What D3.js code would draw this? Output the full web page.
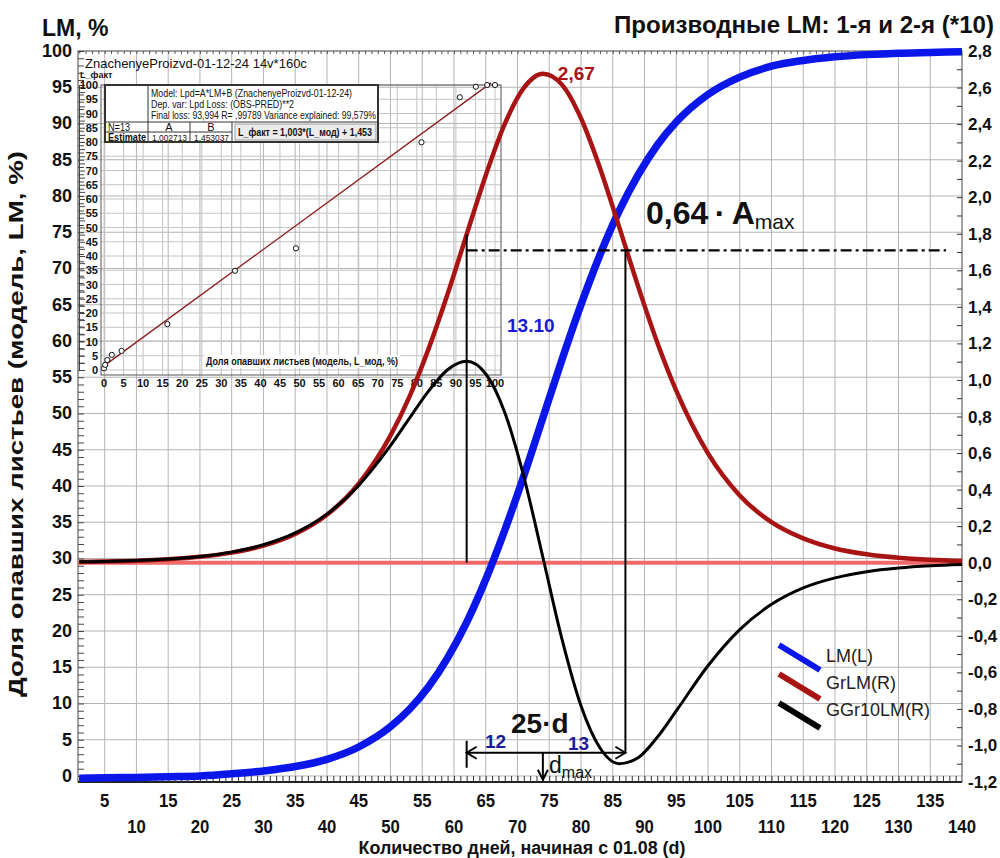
<!DOCTYPE html>
<html>
<head>
<meta charset="utf-8">
<script src="https://cdn.jsdelivr.net/npm/d3@7"></script>
<style>
  body { margin: 0; background: #fff; }
  svg { display: block; }
  text { font-family: "Liberation Sans", Arial, sans-serif; fill: #111; }
</style>
</head>
<body>
<svg id="chart" width="1000" height="858"></svg>
<script>
// days since 01.08 and the three curves
const days = [1, 5, 10, 15, 20, 25, 30, 35, 40, 45, 50, 53, 56, 59, 62, 65, 68, 71, 74, 77,
    80, 83, 86, 89, 92, 95, 100, 105, 110, 115, 120, 125, 130, 135, 140]
const lm = [-0.3, -0.25, -0.2, -0.1, 0.0, 0.3, 0.7, 1.3, 2.3, 4.0, 6.8, 9.2, 12.3, 16.3, 21.2, 27.1, 33.9, 41.4, 49.4, 57.4,
    65.0, 71.9, 77.9, 82.9, 87.0, 90.2, 94.0, 96.4, 97.9, 98.7, 99.2, 99.5, 99.7, 99.8, 99.9]
const grlm = [0.004, 0.007, 0.011, 0.019, 0.032, 0.055, 0.093, 0.157, 0.262, 0.432, 0.695, 0.909, 1.170, 1.470, 1.796, 2.119, 2.401, 2.598, 2.675, 2.616,
    2.432, 2.159, 1.839, 1.512, 1.206, 0.941, 0.598, 0.368, 0.222, 0.133, 0.078, 0.046, 0.027, 0.016, 0.009]
const ggr10 = [0.005, 0.007, 0.012, 0.020, 0.034, 0.058, 0.098, 0.163, 0.266, 0.423, 0.640, 0.791, 0.939, 1.056, 1.102, 1.034, 0.822, 0.471, 0.030, -0.417,
    -0.783, -1.014, -1.100, -1.067, -0.956, -0.811, -0.564, -0.366, -0.228, -0.138, -0.083, -0.049, -0.029, -0.017, -0.010]

// inset: observed vs model leaf fall, N=13
const insetModel = [0, 0.3, 0.85, 2.0, 4.5, 16.2, 33.5, 49.1, 81.2, 91.0, 95.1, 98.0, 100]
const insetFact = [0.6, 1.8, 3.5, 5.3, 6.7, 16.1, 34.8, 42.7, 79.9, 95.7, 99.4, 100, 100]
const coefA = 1.003, coefB = 1.453

// annotation values
const peakDay = 74, peakValue = 2.67
const leftDay = 62, rightDay = 87
const levelValue = 0.64 * peakValue
const leftTicks = d3.range(0, 101, 5)
const rightTicks = d3.range(-1.2, 2.81, 0.2)
const dayTicks = d3.range(5, 141, 5)

const svg = d3.select("#chart")
const plot = { left: 78, right: 962, top: 51, bottom: 782 }

const x = d3.scaleLinear().domain([0.8, 140]).range([plot.left, plot.right])
const yL = d3.scaleLinear().domain([-0.83, 100]).range([plot.bottom, plot.top])
const yR = d3.scaleLinear().domain([-1.2, 2.8]).range([plot.bottom, plot.top])
const comma = (v, f = ".1f") => d3.format(f)(v).replace(".", ",").replace("\u2212", "-")

// grid
const grid = svg.append("g").attr("stroke", "#b4b4b4").attr("stroke-width", 1)
grid.selectAll("line.v").data(dayTicks.filter(d => d < 140)).join("line")
    .attr("x1", d => x(d)).attr("x2", d => x(d))
    .attr("y1", plot.top).attr("y2", plot.bottom)
grid.selectAll("line.h").data(leftTicks.filter(d => d < 100)).join("line")
    .attr("x1", plot.left).attr("x2", plot.right)
    .attr("y1", d => yL(d)).attr("y2", d => yL(d))

// frame and minor ticks
svg.append("rect")
    .attr("x", plot.left).attr("y", plot.top)
    .attr("width", plot.right - plot.left).attr("height", plot.bottom - plot.top)
    .attr("fill", "none").attr("stroke", "#444").attr("stroke-width", 1)
svg.append("line")
    .attr("x1", plot.left).attr("x2", plot.right)
    .attr("y1", plot.bottom).attr("y2", plot.bottom)
    .attr("stroke", "#222").attr("stroke-width", 2)

svg.append("g")
    .attr("transform", `translate(0,${plot.bottom})`)
    .call(d3.axisTop(x).tickValues(d3.range(1, 140)).tickSize(6).tickFormat(""))
    .call(g => g.select(".domain").remove())
    .call(g => g.selectAll("line").attr("stroke", "#333"))
svg.append("g")
    .attr("transform", `translate(0,${plot.top})`)
    .call(d3.axisBottom(x).tickValues(d3.range(1, 140)).tickSize(3).tickFormat(""))
    .call(g => g.select(".domain").remove())
    .call(g => g.selectAll("line").attr("stroke", "#555"))
svg.append("g")
    .attr("transform", `translate(${plot.left},0)`)
    .call(d3.axisRight(yL).tickValues(d3.range(0, 101, 1)).tickSize(6).tickFormat(""))
    .call(g => g.select(".domain").remove())
    .call(g => g.selectAll("line").attr("stroke", "#444"))
svg.append("g")
    .attr("transform", `translate(${plot.right},0)`)
    .call(d3.axisLeft(yR).tickValues(d3.range(-1.2, 2.81, 0.1)).tickSize(5).tickFormat(""))
    .call(g => g.select(".domain").remove())
    .call(g => g.selectAll("line").attr("stroke", "#333"))

// axis labels
svg.append("g").selectAll("text").data(leftTicks).join("text")
    .attr("x", 72).attr("y", d => yL(d) + 6)
    .attr("text-anchor", "end").attr("font-size", 18).attr("font-weight", "bold")
    .text(d => d)
svg.append("g").selectAll("text").data(rightTicks).join("text")
    .attr("x", 968).attr("y", d => yR(d) + 6)
    .attr("font-size", 17).attr("font-weight", "bold")
    .text(d => comma(d))
svg.append("g").selectAll("text").data(dayTicks).join("text")
    .attr("transform", d => `translate(${x(d)},${d % 10 === 0 ? 833 : 807}) scale(0.88,1)`)
    .attr("text-anchor", "middle").attr("font-size", 19).attr("font-weight", "bold")
    .text(d => d)

// titles
svg.append("text").attr("x", 42).attr("y", 36)
    .attr("font-size", 23).attr("font-weight", "bold").text("LM, %")
svg.append("text").attr("x", 994).attr("y", 33).attr("text-anchor", "end")
    .attr("font-size", 23).attr("font-weight", "bold")
    .attr("textLength", 380).attr("lengthAdjust", "spacingAndGlyphs")
    .text("Производные LM: 1-я и 2-я (*10)")
svg.append("text").attr("transform", "translate(23,424) rotate(-90)")
    .attr("text-anchor", "middle").attr("font-size", 20).attr("font-weight", "bold")
    .attr("textLength", 546).attr("lengthAdjust", "spacingAndGlyphs")
    .text("Доля опавших листьев (модель, LM, %)")
svg.append("text").attr("transform", "translate(522,854) scale(0.94,1)")
    .attr("text-anchor", "middle").attr("font-size", 19).attr("font-weight", "bold")
    .text("Количество дней, начиная с 01.08  (d)")

// ---- inset regression plot ----
const ix = d3.scaleLinear().domain([0, 100]).range([104, 495])
const iy = d3.scaleLinear().domain([0, 100]).range([370, 85])
const inset = svg.append("g")
const insetTicks = d3.range(0, 101, 5)

inset.append("g").attr("stroke", "#c4c4c4").attr("stroke-width", 1)
    .call(g => g.selectAll("line.v").data(insetTicks).join("line")
        .attr("x1", d => ix(d)).attr("x2", d => ix(d)).attr("y1", 85).attr("y2", 375))
    .call(g => g.selectAll("line.h").data(insetTicks).join("line").attr("class", "h")
        .attr("x1", 101).attr("x2", 501).attr("y1", d => iy(d)).attr("y2", d => iy(d)))
inset.append("rect").attr("x", 101).attr("y", 85).attr("width", 400).attr("height", 290)
    .attr("fill", "none").attr("stroke", "#555").attr("stroke-width", 1)

inset.append("g")
    .attr("transform", "translate(79,0)")
    .call(d3.axisRight(iy).tickValues(d3.range(0, 101, 2.5)).tickSize(6).tickFormat(""))
    .call(g => g.select(".domain").attr("stroke", "#444"))
    .call(g => g.selectAll("line").attr("stroke", "#444"))
inset.append("g").selectAll("text").data(insetTicks).join("text")
    .attr("x", 98).attr("y", d => iy(d) + 4)
    .attr("text-anchor", "end").attr("font-size", 11).attr("font-weight", "bold").attr("fill", "#222")
    .text(d => d)
inset.append("g").selectAll("text").data(insetTicks).join("text")
    .attr("x", d => ix(d)).attr("y", 387)
    .attr("text-anchor", "middle").attr("font-size", 11).attr("font-weight", "bold").attr("fill", "#222")
    .text(d => d)

inset.append("rect").attr("x", 204).attr("y", 355).attr("width", 196).attr("height", 13).attr("fill", "#fff")
inset.append("text").attr("x", 302).attr("y", 365).attr("text-anchor", "middle")
    .attr("font-size", 10.5).attr("font-weight", "bold").attr("fill", "#222")
    .attr("textLength", 192).attr("lengthAdjust", "spacingAndGlyphs")
    .text("Доля опавших листьев (модель, L_мод, %)")

inset.append("line")
    .attr("x1", ix(0)).attr("y1", iy(coefB))
    .attr("x2", ix(99)).attr("y2", iy(coefA * 99 + coefB))
    .attr("stroke", "#8b1a1a").attr("stroke-width", 1.3)
inset.selectAll("circle").data(insetModel).join("circle")
    .attr("cx", d => ix(d)).attr("cy", (d, i) => iy(insetFact[i]))
    .attr("r", 2.6).attr("fill", "#fff").attr("stroke", "#111").attr("stroke-width", 1)

inset.append("text").attr("x", 85).attr("y", 68).attr("font-size", 13).attr("fill", "#222")
    .text("ZnachenyeProizvd-01-12-24 14v*160c")
inset.append("text").attr("x", 80).attr("y", 78).attr("font-size", 9).attr("font-weight", "bold").attr("fill", "#222")
    .text("L_факт")

// results table
const tbl = inset.append("g").attr("font-size", 11).attr("fill", "#222")
tbl.append("rect").attr("x", 105).attr("y", 85).attr("width", 273).attr("height", 57)
    .attr("fill", "#fff").attr("stroke", "#333").attr("stroke-width", 2)
const tl = (x1, y1, x2, y2) => tbl.append("line").attr("x1", x1).attr("y1", y1).attr("x2", x2).attr("y2", y2)
    .attr("stroke", "#333").attr("stroke-width", 1)
tl(148, 85, 148, 142)
tl(105, 122, 378, 122)
tl(105, 132, 232, 132)
tl(190, 122, 190, 142)
tl(232, 122, 232, 142)
const tt = (x0, y0, s, len) => {
    const t = tbl.append("text").attr("x", x0).attr("y", y0).text(s)
    if (len) t.attr("textLength", len).attr("lengthAdjust", "spacingAndGlyphs")
    return t
}
tt(151, 97, "Model: Lpd=A*LM+B (ZnachenyeProizvd-01-12-24)", 201)
tt(151, 108, "Dep. var: Lpd Loss: (OBS-PRED)**2", 143)
tt(151, 119, "Final loss: 93,994 R= ,99789 Variance explained: 99,579%", 225)
tt(108, 130.5, "N=13", 22)
tt(169, 130.5, "A").attr("text-anchor", "middle")
tt(211, 130.5, "B").attr("text-anchor", "middle")
tt(108, 141, "Estimate", 38).attr("font-weight", "bold")
tt(152, 141, "1,002713", 35).attr("font-size", 9)
tt(194, 141, "1,453037", 35).attr("font-size", 9)
tbl.append("rect").attr("x", 235).attr("y", 124).attr("width", 141).attr("height", 16)
    .attr("fill", "#ececec").attr("stroke", "#999")
tt(238, 136, "L_факт = 1,003*(L_мод) + 1,453", 134).attr("font-weight", "bold")

// ---- zero line and curves ----
svg.append("line")
    .attr("x1", plot.left).attr("x2", plot.right)
    .attr("y1", yR(0)).attr("y2", yR(0))
    .attr("stroke", "#f06a6a").attr("stroke-width", 4)

const lineL = d3.line().x((d, i) => x(days[i])).y(d => yL(d)).curve(d3.curveMonotoneX)
const lineR = d3.line().x((d, i) => x(days[i])).y(d => yR(d)).curve(d3.curveMonotoneX)

svg.append("path").datum(lm).attr("d", lineL)
    .attr("fill", "none").attr("stroke", "#0b16e8").attr("stroke-width", 7.5)
svg.append("path").datum(grlm).attr("d", lineR)
    .attr("fill", "none").attr("stroke", "#a81414").attr("stroke-width", 4.5)
svg.append("path").datum(ggr10).attr("d", lineR)
    .attr("fill", "none").attr("stroke", "#000").attr("stroke-width", 3)

// ---- annotations ----
const ann = svg.append("g").attr("stroke", "#000").attr("fill", "none")
const redAtLeft = grlm[days.indexOf(leftDay)]
ann.append("line").attr("x1", x(leftDay)).attr("x2", x(leftDay))
    .attr("y1", yR(0)).attr("y2", yR(redAtLeft)).attr("stroke-width", 2)
const arrowY = yR(-1.04)
ann.append("line").attr("x1", x(rightDay)).attr("x2", x(rightDay))
    .attr("y1", yR(levelValue)).attr("y2", arrowY).attr("stroke-width", 2)
ann.append("line").attr("x1", x(leftDay)).attr("x2", x(137.5))
    .attr("y1", yR(levelValue)).attr("y2", yR(levelValue))
    .attr("stroke-width", 2.2).attr("stroke-dasharray", "11,4,3,4")
// 25-day span arrow
ann.append("line").attr("x1", x(leftDay)).attr("x2", x(leftDay))
    .attr("y1", arrowY - 12).attr("y2", arrowY + 15).attr("stroke-width", 2)
ann.append("line").attr("x1", x(leftDay)).attr("x2", x(rightDay))
    .attr("y1", arrowY).attr("y2", arrowY).attr("stroke-width", 2)
ann.append("path").attr("stroke-width", 2)
    .attr("d", `M${x(leftDay) + 10},${arrowY - 6} L${x(leftDay)},${arrowY} L${x(leftDay) + 10},${arrowY + 6}`)
ann.append("path").attr("stroke-width", 2)
    .attr("d", `M${x(rightDay) - 10},${arrowY - 6} L${x(rightDay)},${arrowY} L${x(rightDay) - 10},${arrowY + 6}`)
// d max arrow
ann.append("line").attr("x1", x(peakDay)).attr("x2", x(peakDay))
    .attr("y1", arrowY).attr("y2", arrowY + 27).attr("stroke-width", 2)
ann.append("path").attr("stroke-width", 2)
    .attr("d", `M${x(peakDay) - 5},${arrowY + 17} L${x(peakDay)},${arrowY + 27} L${x(peakDay) + 5},${arrowY + 17}`)

svg.append("text").attr("x", x(peakDay) + 15).attr("y", yR(peakValue) + 5)
    .attr("font-size", 19).attr("font-weight", "bold").style("fill", "#a81414")
    .text(comma(peakValue, ".2f"))
svg.append("text").attr("x", 507).attr("y", 332)
    .attr("font-size", 19).attr("font-weight", "bold").style("fill", "#1a1ad6")
    .text("13.10")

const amax = svg.append("text").attr("x", 646).attr("y", 224).attr("font-weight", "bold")
amax.append("tspan").attr("font-size", 32).text("0,64\u2009·\u2009A")
amax.append("tspan").attr("font-size", 21).attr("font-weight", "normal").attr("dy", 5).text("max")

svg.append("text").attr("x", 511).attr("y", 733)
    .attr("font-size", 28).attr("font-weight", "bold").text("25·d")
svg.append("text").attr("x", 485).attr("y", 748)
    .attr("font-size", 19).attr("font-weight", "bold").style("fill", "#1c1c9a").text("12")
svg.append("text").attr("x", 568).attr("y", 750)
    .attr("font-size", 19).attr("font-weight", "bold").style("fill", "#1c1c9a").text("13")
const dmax = svg.append("text").attr("x", 549).attr("y", 773)
dmax.append("tspan").attr("font-size", 23).text("d")
dmax.append("tspan").attr("font-size", 16).attr("dy", 5).text("max")

// ---- legend ----
const legendItems = [
    { name: "LM(L)", color: "#0b16e8" },
    { name: "GrLM(R)", color: "#a81414" },
    { name: "GGr10LM(R)", color: "#000" }
]
const legend = svg.append("g").selectAll("g").data(legendItems).join("g")
    .attr("transform", (d, i) => `translate(779,${645 + i * 29})`)
legend.append("line").attr("x1", 0).attr("y1", 0).attr("x2", 41).attr("y2", 25)
    .attr("stroke", d => d.color).attr("stroke-width", 6)
legend.append("text").attr("x", 47).attr("y", (d, i) => 17 - i * 2)
    .attr("font-size", 18).style("fill", "#222").text(d => d.name)
</script>
</body>
</html>
